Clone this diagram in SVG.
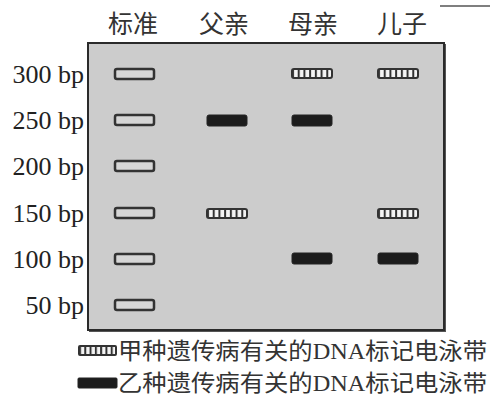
<svg xmlns="http://www.w3.org/2000/svg" width="490" height="398" viewBox="0 0 490 398">
<style>
.hdr{font-family:"Noto Sans CJK SC","Noto Sans",sans-serif;font-size:25px;fill:#333;text-anchor:middle}
.bp{font-family:"Liberation Serif",serif;font-size:26px;fill:#222;text-anchor:end}
.leg{font-family:"Liberation Serif","Noto Sans CJK SC",serif;font-size:23px;fill:#333}
.std{fill:#d6d6d6;stroke:#333;stroke-width:2.5}
.blk{fill:#1c1c1c;stroke:#222;stroke-width:1}
.str{fill:url(#stripes);stroke:#333;stroke-width:2}
</style>
<defs>
<pattern id="stripes" patternUnits="objectBoundingBox" width="0.142857" height="1">
<rect x="0" y="0" width="6" height="20" fill="#f4f4f4"/>
<rect x="0" y="0" width="2" height="20" fill="#333"/>
</pattern>
</defs>
<line x1="440" y1="6" x2="490" y2="6" stroke="#555" stroke-width="1.5"/>
<g id="headers">
<text class="hdr" x="133" y="33">标准</text>
<text class="hdr" x="224" y="33">父亲</text>
<text class="hdr" x="313" y="33">母亲</text>
<text class="hdr" x="402" y="33">儿子</text>
</g>
<g id="gel">
<rect x="89" y="44" width="357" height="288" fill="#555"/>
<rect x="88" y="43" width="356" height="287" fill="#cccccc" stroke="#2a2a2a" stroke-width="2"/>
</g>
<g id="labels">
<text class="bp" x="84" y="83">300 bp</text>
<text class="bp" x="84" y="129">250 bp</text>
<text class="bp" x="84" y="175">200 bp</text>
<text class="bp" x="84" y="222">150 bp</text>
<text class="bp" x="84" y="268">100 bp</text>
<text class="bp" x="84" y="314">50 bp</text>
</g>
<g id="standard">
<rect class="std" x="115" y="69" width="39" height="10" rx="2"/>
<rect class="std" x="115" y="115" width="39" height="10" rx="2"/>
<rect class="std" x="115" y="161" width="39" height="10" rx="2"/>
<rect class="std" x="115" y="208" width="39" height="10" rx="2"/>
<rect class="std" x="115" y="254" width="39" height="10" rx="2"/>
<rect class="std" x="115" y="300" width="39" height="10" rx="2"/>
</g>
<g id="father">
<rect class="blk" x="207" y="115" width="40" height="11" rx="2"/>
<rect class="str" x="207" y="209" width="40" height="9" rx="2"/>
</g>
<g id="mother">
<rect class="str" x="292" y="69" width="40" height="9" rx="2"/>
<rect class="blk" x="292" y="115" width="40" height="11" rx="2"/>
<rect class="blk" x="292" y="253" width="40" height="11" rx="2"/>
</g>
<g id="son">
<rect class="str" x="378" y="69" width="40" height="9" rx="2"/>
<rect class="str" x="378" y="209" width="40" height="9" rx="2"/>
<rect class="blk" x="378" y="253" width="40" height="11" rx="2"/>
</g>
<g id="legend">
<rect class="str" x="79" y="346" width="37" height="9" rx="1"/>
<text class="leg" x="118" y="359" textLength="369" lengthAdjust="spacingAndGlyphs">甲种遗传病有关的DNA标记电泳带</text>
<rect class="blk" x="78" y="378" width="39" height="10" rx="1"/>
<text class="leg" x="118" y="391" textLength="369" lengthAdjust="spacingAndGlyphs">乙种遗传病有关的DNA标记电泳带</text>
</g>
</svg>
